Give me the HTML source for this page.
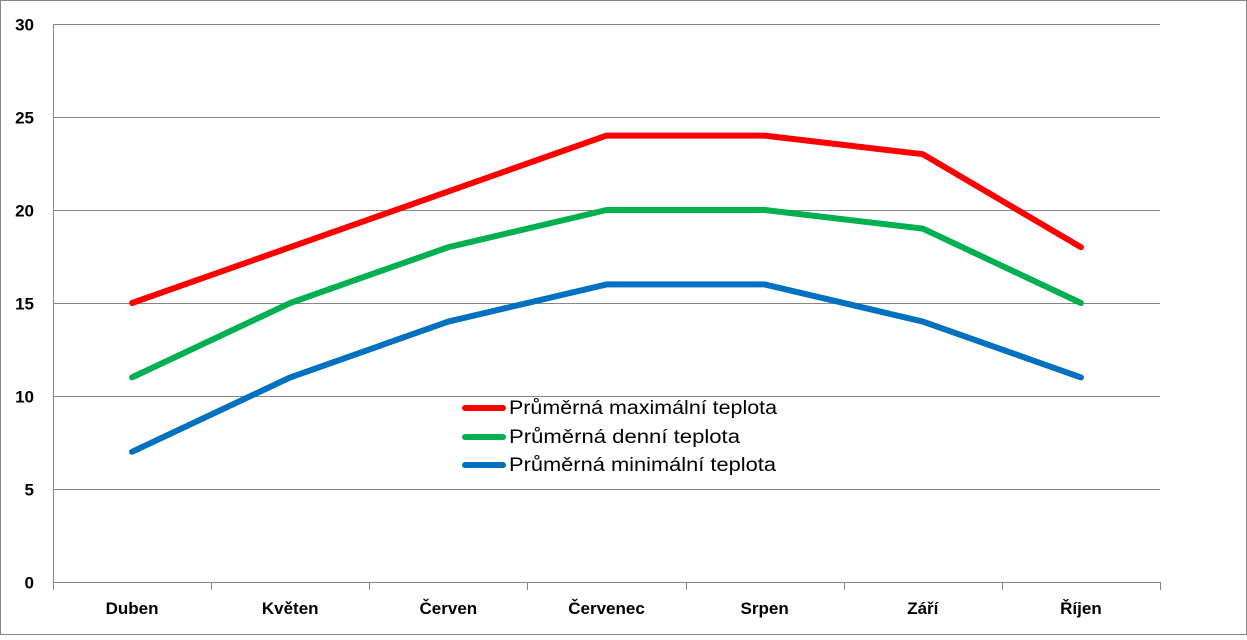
<!DOCTYPE html>
<html><head><meta charset="utf-8">
<style>
html,body{margin:0;padding:0;background:#fff;}
body{width:1247px;height:635px;overflow:hidden;font-family:"Liberation Sans",Arial,sans-serif;}
</style></head>
<body>
<svg id="chart" width="1247" height="635" xmlns="http://www.w3.org/2000/svg">
<rect x="0.5" y="0.5" width="1246" height="634" fill="#fff" stroke="#868686"/>
<g id="grid"></g>
<g id="axes"></g>
<g id="series"></g>
<g id="legend"></g>
</svg>
<script>
const categories = ["Duben","Květen","Červen","Červenec","Srpen","Září","Říjen"];
const maxTemps = [15,18,21,24,24,23,18];
const dayTemps = [11,15,18,20,20,19,15];
const minTemps = [7,11,14,16,16,14,11];
const yTicks = [0,5,10,15,20,25,30];
const seriesNames = ["Průměrná maximální teplota","Průměrná denní teplota","Průměrná minimální teplota"];

const NS="http://www.w3.org/2000/svg";
const L=53,R=1160,T=24,B=582,yMax=30;
const band=(R-L)/categories.length;
const xPos=i=>L+band*(i+0.5);
const yPos=v=>B-(v/yMax)*(B-T);
function mk(tag,attrs,parent){const e=document.createElementNS(NS,tag);for(const k in attrs)e.setAttribute(k,attrs[k]);parent.appendChild(e);return e;}
const grid=document.getElementById('grid'),axes=document.getElementById('axes'),ser=document.getElementById('series'),leg=document.getElementById('legend');

yTicks.forEach(v=>{
  const y=Math.round(yPos(v))+0.5;
  if(v>0){const g=mk('line',{x1:L,x2:R,y1:y,y2:y,stroke:'#868686','stroke-width':1},grid);
  
  }
  const t=mk('text',{x:34,y:y+6,'text-anchor':'end','font-size':17,'font-weight':'bold',fill:'#000'},axes);
  t.textContent=v;
  
  
});
const ya=mk('line',{x1:L+0.5,x2:L+0.5,y1:T,y2:B,stroke:'#868686'},axes);


const xa=mk('line',{x1:L,x2:R,y1:B+0.5,y2:B+0.5,stroke:'#868686'},axes);


for(let i=0;i<=categories.length;i++){
  const x=Math.round(L+band*i)+0.5;
  const tk=mk('line',{x1:x,x2:x,y1:B,y2:B+8,stroke:'#868686'},axes);
  
  
}
categories.forEach((c,i)=>{
  const t=mk('text',{x:xPos(i),y:614,'text-anchor':'middle','font-size':17,'font-weight':'bold',fill:'#000'},axes);
  t.textContent=c;
  
  
});

const allSeries=[[maxTemps,'#ff0000','max-temp-line'],[dayTemps,'#00b050','day-temp-line'],[minTemps,'#0070c0','min-temp-line']];
allSeries.forEach(([d,col,name])=>{
  const p=mk('polyline',{points:d.map((v,i)=>xPos(i)+','+yPos(v)).join(' '),fill:'none',stroke:col,'stroke-width':6,'stroke-linecap':'round','stroke-linejoin':'round'},ser);
  
  
});

const legY=[408,437,465];
const legW=[268,231,267];
allSeries.forEach(([d,col,name],i)=>{
  const l=mk('line',{x1:465,x2:503,y1:legY[i],y2:legY[i],stroke:col,'stroke-width':6,'stroke-linecap':'round'},leg);
  
  
  const t=mk('text',{x:509,y:legY[i]+6,'font-size':19,fill:'#000',textLength:legW[i],lengthAdjust:'spacingAndGlyphs'},leg);
  t.textContent=seriesNames[i];
  
  
});
</script>
</body></html>
